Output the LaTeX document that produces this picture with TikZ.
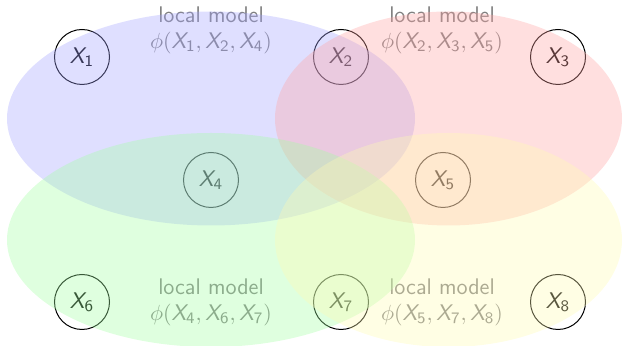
\documentclass[tikz,border=0pt]{standalone}
\newcommand{\xv}[1]{\textsf{\itshape X}_{\mathsf{#1}}}
\begin{document}
\begin{tikzpicture}[x=0.5pt,y=-0.5pt,
  var/.style={circle,draw=black,line width=0.5pt,minimum size=27.5pt,inner sep=0pt,font=\fontsize{11.3}{13}\selectfont\sffamily},
  lbl/.style={align=center,text=black!50,font=\fontsize{11.3}{13}\selectfont\sffamily},
  region/.style={fill opacity=0.35}]
\useasboundingbox (0,0) rectangle (622,346);
\node[var] (x1) at (82,57) {$\xv{1}$};
\node[var] (x2) at (341,57) {$\xv{2}$};
\node[var] (x3) at (558,57) {$\xv{3}$};
\node[var] (x4) at (211,180) {$\xv{4}$};
\node[var] (x5) at (443,180) {$\xv{5}$};
\node[var] (x6) at (82,302) {$\xv{6}$};
\node[var] (x7) at (341,302) {$\xv{7}$};
\node[var] (x8) at (558,302) {$\xv{8}$};
\node[lbl] (l1) at (211,30) {local model\\$\phi(\xv{1},\xv{2},\xv{4})$};
\node[lbl] (l2) at (442,30) {local model\\$\phi(\xv{2},\xv{3},\xv{5})$};
\node[lbl] (l3) at (211,302) {local model\\$\phi(\xv{4},\xv{6},\xv{7})$};
\node[lbl] (l4) at (442,302) {local model\\$\phi(\xv{5},\xv{7},\xv{8})$};
\fill[region,blue!36] (211,118.5) ellipse [x radius=204, y radius=107];
\fill[region,red!36] (448.5,118.5) ellipse [x radius=173.5, y radius=107];
\fill[region,green!36] (211,240) ellipse [x radius=204, y radius=107];
\fill[region,yellow!30] (448.5,240) ellipse [x radius=173.5, y radius=107];
\end{tikzpicture}
\end{document}
